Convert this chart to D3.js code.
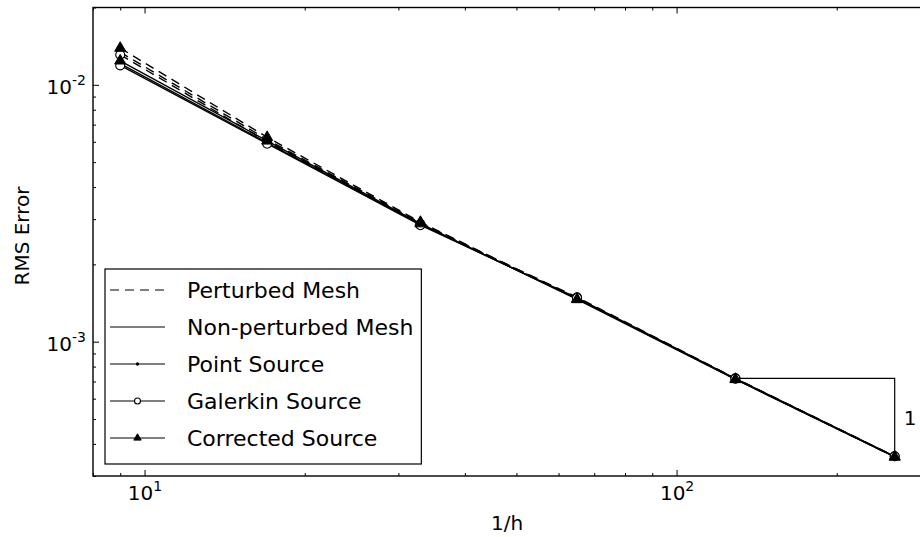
<!DOCTYPE html>
<html>
<head>
<meta charset="utf-8">
<script src="https://cdn.jsdelivr.net/npm/d3@7"></script>
<style>
body { margin: 0; background: #fff; }
svg text { font-family: "DejaVu Sans", sans-serif; fill: #000; }
</style>
</head>
<body>
<svg id="chart" width="920" height="537"></svg>
<script>
// 1/h values (mesh refinement)
const invH = [9, 17, 33, 65, 129, 257];

// RMS error, perturbed mesh
const perturbedPoint     = [0.0134, 0.00612, 0.00290, 0.00148, 0.000718, 0.000357];
const perturbedGalerkin  = [0.0131, 0.00600, 0.00287, 0.00149, 0.000720, 0.000358];
const perturbedCorrected = [0.0139, 0.00625, 0.00292, 0.00147, 0.000715, 0.000356];

// RMS error, non-perturbed mesh
const regularPoint     = [0.0121, 0.00595, 0.00286, 0.00147, 0.000716, 0.000357];
const regularGalerkin  = [0.0119, 0.00590, 0.00284, 0.00148, 0.000718, 0.000358];
const regularCorrected = [0.0124, 0.00605, 0.00288, 0.00146, 0.000713, 0.000356];

const legendLabels = ["Perturbed Mesh", "Non-perturbed Mesh", "Point Source", "Galerkin Source", "Corrected Source"];
const xMajorTicks = [10, 100];
const xMinorTicks = [8, 9, 20, 30, 40, 50, 60, 70, 80, 90, 200];
const yMajorTicks = [1e-3, 1e-2];
const yMinorTicks = [3e-4, 4e-4, 5e-4, 6e-4, 7e-4, 8e-4, 9e-4, 2e-3, 3e-3, 4e-3, 5e-3, 6e-3, 7e-3, 8e-3, 9e-3, 2e-2];
// slope-one triangle between the last two refinements
const slopeX = [129, 257];
const slopeLabel = "1";

const plotLeft = 93, plotRight = 921, plotTop = 7.5, plotBottom = 476;
const dash = "9,6";

const svg = d3.select("#chart");
const x = d3.scaleLog().domain([8, 288]).range([plotLeft, plotRight]);
const y = d3.scaleLog().domain([3e-4, 2e-2]).range([plotBottom, plotTop]);

const series = [
    { values: perturbedPoint, dashed: true, marker: "point" },
    { values: perturbedGalerkin, dashed: true, marker: "circle" },
    { values: perturbedCorrected, dashed: true, marker: "triangle" },
    { values: regularPoint, dashed: false, marker: "point" },
    { values: regularGalerkin, dashed: false, marker: "circle" },
    { values: regularCorrected, dashed: false, marker: "triangle" }
];

function drawMarker(g, kind, size) {
    if (kind === "point") {
        g.append("circle").attr("r", size * 0.55).attr("fill", "#000");
    } else if (kind === "circle") {
        g.append("circle").attr("r", size).attr("fill", "#fff")
            .attr("stroke", "#000").attr("stroke-width", 1.1);
    } else if (kind === "triangle") {
        g.append("path")
            .attr("d", d3.symbol().type(d3.symbolTriangle).size(size * size * 2.6))
            .attr("fill", "#000").attr("stroke", "#000").attr("stroke-width", 1);
    }
}

// axes
function tickLabel(sel) {
    sel.text(null);
    sel.append("tspan").text("10");
    sel.append("tspan").attr("dy", -9).attr("font-size", "14px")
        .text(d => Math.round(Math.log10(d)));
}

const gx = svg.append("g").attr("transform", `translate(0,${plotBottom})`)
    .call(d3.axisBottom(x).tickValues(xMajorTicks).tickSize(-6).tickSizeOuter(0).tickPadding(10));
gx.selectAll(".tick text").attr("font-size", "20px").call(tickLabel);
svg.append("g").attr("transform", `translate(0,${plotBottom})`)
    .call(d3.axisBottom(x).tickValues(xMinorTicks).tickSize(-3).tickSizeOuter(0).tickFormat(""));
svg.append("g").attr("transform", `translate(0,${plotTop})`)
    .call(d3.axisTop(x).tickValues(xMajorTicks).tickSize(-6).tickSizeOuter(0).tickFormat(""));
svg.append("g").attr("transform", `translate(0,${plotTop})`)
    .call(d3.axisTop(x).tickValues(xMinorTicks).tickSize(-3).tickSizeOuter(0).tickFormat(""));

const gy = svg.append("g").attr("transform", `translate(${plotLeft},0)`)
    .call(d3.axisLeft(y).tickValues(yMajorTicks).tickSize(-6).tickSizeOuter(0).tickPadding(7));
gy.selectAll(".tick text").attr("font-size", "20px").attr("dy", "0.45em").call(tickLabel);
svg.append("g").attr("transform", `translate(${plotLeft},0)`)
    .call(d3.axisLeft(y).tickValues(yMinorTicks).tickSize(-3).tickSizeOuter(0).tickFormat(""));

svg.selectAll(".domain").remove();
svg.selectAll(".tick line").attr("stroke", "#000");

// lines + markers
const line = d3.line().x((d, i) => x(invH[i])).y(d => y(d));

series.forEach(s => {
    svg.append("path")
        .attr("d", line(s.values))
        .attr("fill", "none")
        .attr("stroke", "#000")
        .attr("stroke-width", 1.4)
        .attr("stroke-dasharray", s.dashed ? dash : null);
});
series.forEach(s => {
    s.values.forEach((v, i) => {
        const g = svg.append("g").attr("transform", `translate(${x(invH[i])},${y(v)})`);
        drawMarker(g, s.marker, 4.5);
    });
});

// slope triangle
const ref = perturbedGalerkin;
const y1 = y(ref[invH.indexOf(slopeX[0])]);
const y2 = y(ref[invH.indexOf(slopeX[1])]);
svg.append("path")
    .attr("d", `M${x(slopeX[0])},${y1}H${x(slopeX[1])}V${y2}`)
    .attr("fill", "none").attr("stroke", "#000").attr("stroke-width", 1.2);
svg.append("text")
    .attr("x", x(slopeX[1]) + 9).attr("y", (y1 + y2) / 2)
    .attr("dy", "0.36em").attr("font-size", "20px")
    .text(slopeLabel);

// frame
svg.append("rect")
    .attr("x", plotLeft).attr("y", plotTop)
    .attr("width", plotRight - plotLeft).attr("height", plotBottom - plotTop)
    .attr("fill", "none").attr("stroke", "#000").attr("stroke-width", 1.4);

// axis labels
svg.append("text")
    .attr("x", (plotLeft + plotRight) / 2).attr("y", 530)
    .attr("text-anchor", "middle").attr("font-size", "20px")
    .text("1/h");
svg.append("text")
    .attr("transform", "translate(29,236) rotate(-90)")
    .attr("text-anchor", "middle").attr("font-size", "20px")
    .text("RMS Error");

// legend
const legend = svg.append("g");
const box = legend.append("rect")
    .attr("x", 105).attr("y", 269).attr("height", 195)
    .attr("fill", "#fff").attr("stroke", "#000").attr("stroke-width", 1.2);
const legendRows = [
    { dashed: true, marker: null },
    { dashed: false, marker: null },
    { dashed: false, marker: "point" },
    { dashed: false, marker: "circle" },
    { dashed: false, marker: "triangle" }
];
let maxW = 0;
legendRows.forEach((r, i) => {
    const cy = 290 + i * 37;
    legend.append("line")
        .attr("x1", 110).attr("x2", 165).attr("y1", cy).attr("y2", cy)
        .attr("stroke", "#000").attr("stroke-width", 1.2)
        .attr("stroke-dasharray", r.dashed ? dash : null);
    if (r.marker) {
        drawMarker(legend.append("g").attr("transform", `translate(137.5,${cy})`), r.marker, 3);
    }
    const t = legend.append("text")
        .attr("x", 187).attr("y", cy).attr("dy", "0.36em")
        .attr("font-size", "22px")
        .text(legendLabels[i]);
    maxW = Math.max(maxW, t.node().getComputedTextLength());
});
box.attr("width", 187 + maxW + 8 - 105);
</script>
</body>
</html>
